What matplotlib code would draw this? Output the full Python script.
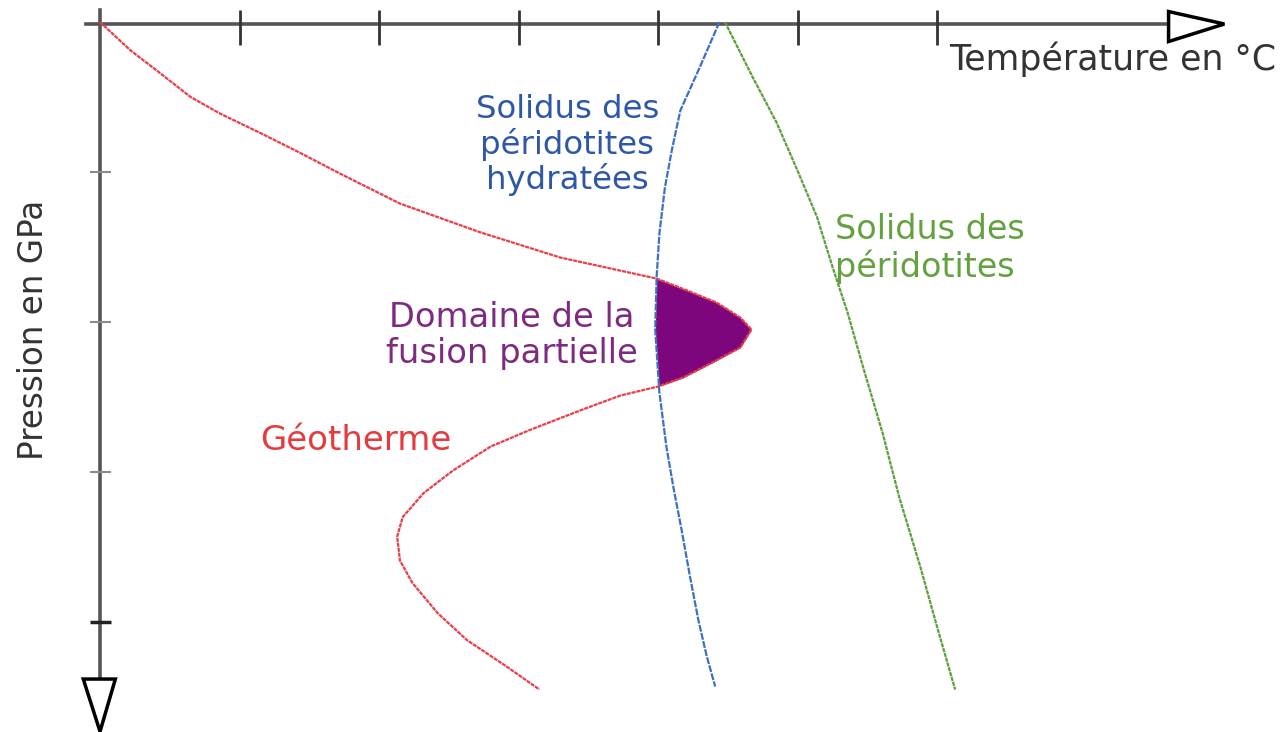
import numpy as np
import matplotlib.pyplot as plt

plt.rcParams['lines.scale_dashes'] = False

# geotherme (temperature in tick units, pressure in tick units)
geo_T = [0.0, 0.22, 0.43, 0.65, 0.86, 1.15, 1.43, 1.72, 2.15, 2.72, 3.30,
         3.99, 4.21, 4.42, 4.59, 4.67, 4.59, 4.39, 4.18, 4.00,
         3.73, 3.44, 3.08, 2.80, 2.53, 2.32, 2.17, 2.13, 2.15, 2.24, 2.42,
         2.63, 2.92, 3.15]
geo_P = [0.0, 0.19, 0.34, 0.50, 0.61, 0.74, 0.87, 1.01, 1.21, 1.40, 1.57,
         1.71, 1.79, 1.87, 1.97, 2.05, 2.17, 2.27, 2.37, 2.43,
         2.49, 2.59, 2.72, 2.83, 2.99, 3.14, 3.30, 3.43, 3.59, 3.74, 3.94,
         4.12, 4.30, 4.45]

# solidus des peridotites hydratees
hyd_T = [4.44, 4.30, 4.16, 4.10, 4.05, 4.01, 3.99, 3.98, 4.01, 4.06, 4.11,
         4.17, 4.23, 4.29, 4.35, 4.41]
hyd_P = [0.0, 0.30, 0.59, 0.85, 1.10, 1.41, 1.70, 2.05, 2.47, 2.83, 3.10,
         3.39, 3.70, 3.99, 4.23, 4.43]

# solidus des peridotites seches
sol_T = [4.48, 4.68, 4.85, 5.00, 5.14, 5.25, 5.36, 5.47, 5.61, 5.73, 5.88,
         6.00, 6.13]
sol_P = [0.0, 0.37, 0.67, 0.99, 1.30, 1.63, 1.94, 2.30, 2.74, 3.17, 3.63,
         4.03, 4.45]

x_ticks = [1, 2, 3, 4, 5, 6]
y_ticks = [1, 2, 3, 4]

fig = plt.figure(figsize=(12.81, 7.32), dpi=100)
ax = fig.add_axes([0, 0, 1, 1])
ax.set_xlim(-0.717, 8.466)
ax.set_ylim(4.733, -0.147)
ax.axis('off')

axis_col = '#555555'
# axes
ax.plot([-0.1, 7.7], [0.013, 0.013], color=axis_col, lw=2.6, zorder=2)
ax.plot([0, 0], [-0.08, 4.4], color=axis_col, lw=2.6, zorder=2)
ax.vlines(x_ticks, -0.08, 0.15, color='#333333', lw=2, zorder=2)
ax.hlines(y_ticks[:-1], -0.07, 0.08, color='#8a8a8a', lw=1.5, zorder=2)
ax.hlines(y_ticks[-1:], -0.07, 0.08, color='#222222', lw=2.5, zorder=2)

# arrow heads
ax.add_patch(plt.Polygon([[7.66, -0.07], [8.06, 0.013], [7.66, 0.13]],
                         closed=True, fc='white', ec='black', lw=2.5, zorder=3))
ax.add_patch(plt.Polygon([[-0.12, 4.38], [0.11, 4.38], [0.0, 4.73]],
                         closed=True, fc='white', ec='black', lw=2.5, zorder=3))

# zone of partial melting: between the hydrated solidus and the geotherme nose
i0, i1 = 11, 20
nose_T = np.array(geo_T[i0:i1])
nose_P = np.array(geo_P[i0:i1])
wall_T = np.interp(nose_P, hyd_P, hyd_T)
ax.fill_betweenx(nose_P, wall_T, nose_T, color='#7d067d', lw=0, zorder=1)

ax.plot(geo_T, geo_P, color='#e8404a', lw=1.6, dashes=(3.0, 0.6), zorder=2)
ax.plot(hyd_T, hyd_P, color='#3f6fc0', lw=1.6, dashes=(5.0, 1.0), zorder=2)
ax.plot(sol_T, sol_P, color='#5f9e3c', lw=1.6, dashes=(3.0, 0.6), zorder=2)

ax.text(3.35, 0.82, 'Solidus des\npéridotites\nhydratées', color='#2d58a8',
        fontsize=23.3, ha='center', va='center', linespacing=1.1)
ax.text(5.27, 1.51, 'Solidus des\npéridotites', color='#63a23e',
        fontsize=24, ha='left', va='center', linespacing=1.1)
ax.text(2.95, 2.09, 'Domaine de la\nfusion partielle', color='#7e2a80',
        fontsize=24.3, ha='center', va='center', linespacing=1.1)
ax.text(1.83, 2.79, 'Géotherme', color='#e53a3e', fontsize=24.5,
        ha='center', va='center')
ax.text(6.09, 0.25, 'Température en °C', color='#333333', fontsize=25,
        ha='left', va='center')
ax.text(-0.48, 2.05, 'Pression en GPa', color='#333333', fontsize=23.5,
        ha='center', va='center', rotation=90)

fig.savefig('out.png', dpi=100)
